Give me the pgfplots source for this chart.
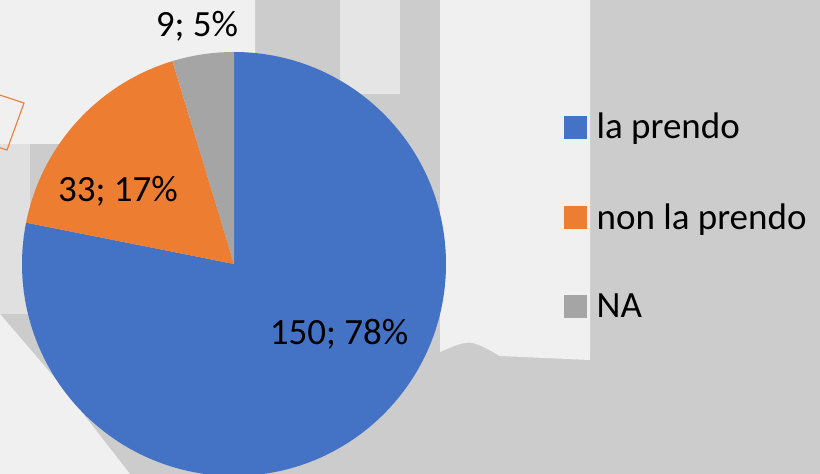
\documentclass[border=0pt]{standalone}
\usepackage{pgfplots}
\pgfplotsset{compat=1.18}
\usepackage{pgfplotstable}
\usepackage{fontspec}
\setmainfont{Carlito}
\definecolor{cblue}{RGB}{68,114,196}
\definecolor{corange}{RGB}{237,125,49}
\definecolor{cgray}{RGB}{165,165,165}
\definecolor{bg}{RGB}{204,204,204}
\definecolor{wm}{RGB}{240,240,240}
\pgfplotstableread{
label value
{la prendo} 150
{non la prendo} 33
NA 9
}\piedata
\begin{document}
\begin{tikzpicture}
\pgfplotstablegetelem{0}{value}\of\piedata \let\va\pgfplotsretval
\pgfplotstablegetelem{1}{value}\of\piedata \let\vb\pgfplotsretval
\pgfplotstablegetelem{2}{value}\of\piedata \let\vc\pgfplotsretval
\pgfmathsetmacro\tot{\va+\vb+\vc}
\pgfmathsetmacro\fa{\va/\tot}
\pgfmathsetmacro\fb{\vb/\tot}
\pgfmathsetmacro\fc{\vc/\tot}
\pgfmathsetmacro\aA{90}
\pgfmathsetmacro\aB{90-360*\fa}
\pgfmathsetmacro\aC{\aB-360*\fb}
\pgfmathsetmacro\aD{\aC-360*\fc}
\pgfmathtruncatemacro\pa{round(100*\fa)}
\pgfmathtruncatemacro\pb{round(100*\fb)}
\pgfmathtruncatemacro\pc{round(100*\fc)}
\begin{axis}[
  width=820pt, height=474pt, scale only axis,
  xmin=0, xmax=820, ymin=0, ymax=474,
  hide axis, clip=true,
  legend style={at={(axis cs:564,363)}, anchor=north west, draw=none, fill=none,
    font=\fontsize{37}{42}\selectfont, row sep=59pt, inner sep=0pt,
    /tikz/every odd column/.append style={column sep=8pt}},
  legend cell align=left,
  legend image code/.code={\fill[#1] (0pt,-11pt) rectangle (22pt,11pt);},
]
% background (faint watermark)
\fill[bg] (axis cs:0,0) rectangle (axis cs:820,474);
\fill[wm] (axis cs:0,474) -- (axis cs:255,474) -- (axis cs:255,400) -- (axis cs:150,330) -- (axis cs:0,330) -- cycle;
\fill[wm!55!bg] (axis cs:0,330) rectangle (axis cs:30,160);
\fill[wm] (axis cs:0,0) -- (axis cs:130,0) -- (axis cs:60,90) -- (axis cs:0,160) -- cycle;
\fill[wm!70!bg] (axis cs:340,474) rectangle (axis cs:400,380);
\fill[wm!60!bg] (axis cs:500,474) -- (axis cs:530,474) -- (axis cs:470,330) -- (axis cs:450,330) -- cycle;
\fill[wm] (axis cs:440,122) .. controls (axis cs:470,135) .. (axis cs:500,118) -- (axis cs:590,114) -- (axis cs:590,474) -- (axis cs:440,474) -- cycle;
\draw[corange, line width=1.1pt] (axis cs:24,371) -- (axis cs:7,324) -- (axis cs:-69,349) -- (axis cs:-52,396) -- cycle;
% pie
\fill[cblue] (axis cs:234,210) -- ++(\aA:212pt) arc[start angle=\aA, end angle=\aB, radius=212pt] -- cycle;
\fill[corange] (axis cs:234,210) -- ++(\aB:212pt) arc[start angle=\aB, end angle=\aC, radius=212pt] -- cycle;
\fill[cgray] (axis cs:234,210) -- ++(\aC:212pt) arc[start angle=\aC, end angle=\aD, radius=212pt] -- cycle;
\addlegendimage{cblue}\addlegendentry{la prendo}
\addlegendimage{corange}\addlegendentry{non la prendo}
\addlegendimage{cgray}\addlegendentry{NA}
\node[font=\fontsize{37}{42}\selectfont] at (axis cs:339,140) {\va; \pa\%};
\node[font=\fontsize{37}{42}\selectfont] at (axis cs:118,283) {\vb; \pb\%};
\node[font=\fontsize{37}{42}\selectfont] at (axis cs:197,448) {\vc; \pc\%};
\end{axis}
\end{tikzpicture}
\end{document}
